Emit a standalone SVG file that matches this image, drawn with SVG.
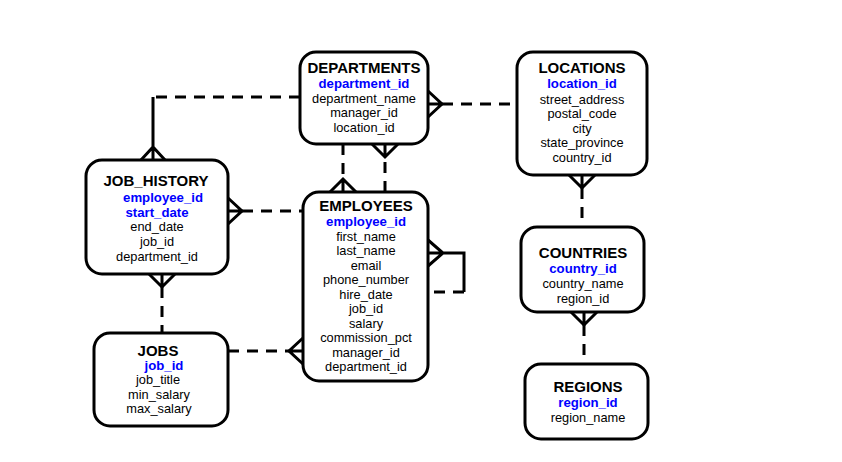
<svg xmlns="http://www.w3.org/2000/svg" width="842" height="462" viewBox="0 0 842 462">
<style>
  .box{fill:#fff;stroke:#000;stroke-width:3}
  .t{font-family:"Liberation Sans",Arial,sans-serif;font-weight:bold;font-size:15px;fill:#000;text-anchor:middle}
  .pk{font-family:"Liberation Sans",Arial,sans-serif;font-weight:bold;font-size:13.2px;fill:#0000ff;text-anchor:middle}
  .a{font-family:"Liberation Sans",Arial,sans-serif;font-size:12.8px;fill:#000;text-anchor:middle}
  .solid{fill:none;stroke:#000;stroke-width:3}
  .dash{fill:none;stroke:#000;stroke-width:3;stroke-dasharray:11 8}
</style>
<rect width="842" height="462" fill="#fff"/>
<g id="connectors">
  <!-- DEPARTMENTS - JOB_HISTORY -->
  <path class="dash" d="M300,97 H153"/>
  <path class="solid" d="M153,97 V160 M141,160 L153,147 L165,160"/>
  <!-- DEPARTMENTS - LOCATIONS -->
  <path class="solid" d="M428,91 L442,104 L428,117 M428,104 H442"/>
  <path class="dash" d="M442,104 H517"/>
  <!-- DEPARTMENTS - EMPLOYEES (x=343) -->
  <path class="dash" d="M343,144 V179"/>
  <path class="solid" d="M330,192 L343,179 L356,192 M343,179 V192"/>
  <!-- EMPLOYEES - DEPARTMENTS (x=385) -->
  <path class="solid" d="M372,144 L385,157 L398,144 M385,144 V157"/>
  <path class="dash" d="M385,192 V157"/>
  <!-- JOB_HISTORY - EMPLOYEES -->
  <path class="solid" d="M228,198 L242,211 L228,224 M228,211 H242"/>
  <path class="dash" d="M242,211 H303"/>
  <!-- JOB_HISTORY - JOBS -->
  <path class="solid" d="M149,274 L162,287 L175,274 M162,274 V287"/>
  <path class="dash" d="M162,287 V333"/>
  <!-- JOBS - EMPLOYEES -->
  <path class="dash" d="M228,351 H289"/>
  <path class="solid" d="M303,338 L289,351 L303,364 M289,351 H303"/>
  <!-- EMPLOYEES self reference -->
  <path class="solid" d="M428,240 L443,253 L428,266 M428,253 H464 V292"/>
  <path class="dash" d="M464,292 H428"/>
  <!-- LOCATIONS - COUNTRIES -->
  <path class="solid" d="M569,175 L582,188 L595,175 M582,175 V188"/>
  <path class="dash" d="M582,188 V227"/>
  <!-- COUNTRIES - REGIONS -->
  <path class="solid" d="M571,312 L584,325 L597,312 M584,312 V325"/>
  <path class="dash" d="M584,325 V364"/>
</g>
<g id="departments">
  <rect class="box" x="300" y="52" width="128" height="92" rx="16"/>
  <text class="t" x="364" y="73">DEPARTMENTS</text>
  <text class="pk" x="364" y="88">department_id</text>
  <text class="a" x="364" y="103">department_name</text>
  <text class="a" x="364" y="117">manager_id</text>
  <text class="a" x="364" y="132">location_id</text>
</g>
<g id="locations">
  <rect class="box" x="517" y="52" width="130" height="123" rx="16"/>
  <text class="t" x="582" y="73">LOCATIONS</text>
  <text class="pk" x="582" y="88">location_id</text>
  <text class="a" x="582" y="104">street_address</text>
  <text class="a" x="582" y="118">postal_code</text>
  <text class="a" x="582" y="133">city</text>
  <text class="a" x="582" y="147">state_province</text>
  <text class="a" x="582" y="162">country_id</text>
</g>
<g id="job_history">
  <rect class="box" x="86" y="160" width="142" height="114" rx="16"/>
  <text class="t" x="156" y="186">JOB_HISTORY</text>
  <text class="pk" x="163" y="202">employee_id</text>
  <text class="pk" x="157" y="217">start_date</text>
  <text class="a" x="157" y="231">end_date</text>
  <text class="a" x="157" y="246">job_id</text>
  <text class="a" x="157" y="261">department_id</text>
</g>
<g id="employees">
  <rect class="box" x="303" y="192" width="125" height="189" rx="16"/>
  <text class="t" x="366" y="211">EMPLOYEES</text>
  <text class="pk" x="366" y="226">employee_id</text>
  <text class="a" x="366" y="241">first_name</text>
  <text class="a" x="366" y="255">last_name</text>
  <text class="a" x="366" y="270">email</text>
  <text class="a" x="366" y="284">phone_number</text>
  <text class="a" x="366" y="299">hire_date</text>
  <text class="a" x="366" y="313">job_id</text>
  <text class="a" x="366" y="328">salary</text>
  <text class="a" x="366" y="342">commission_pct</text>
  <text class="a" x="366" y="357">manager_id</text>
  <text class="a" x="366" y="371">department_id</text>
</g>
<g id="jobs">
  <rect class="box" x="94" y="333" width="134" height="93" rx="16"/>
  <text class="t" x="158" y="356">JOBS</text>
  <text class="pk" x="164" y="370">job_id</text>
  <text class="a" x="158" y="384">job_title</text>
  <text class="a" x="159" y="399">min_salary</text>
  <text class="a" x="159" y="413">max_salary</text>
</g>
<g id="countries">
  <rect class="box" x="521" y="227" width="123" height="85" rx="16"/>
  <text class="t" x="583" y="258">COUNTRIES</text>
  <text class="pk" x="583" y="273">country_id</text>
  <text class="a" x="583" y="288">country_name</text>
  <text class="a" x="583" y="303">region_id</text>
</g>
<g id="regions">
  <rect class="box" x="525" y="364" width="123" height="75" rx="16"/>
  <text class="t" x="588" y="392">REGIONS</text>
  <text class="pk" x="588" y="407">region_id</text>
  <text class="a" x="588" y="422">region_name</text>
</g>
</svg>
